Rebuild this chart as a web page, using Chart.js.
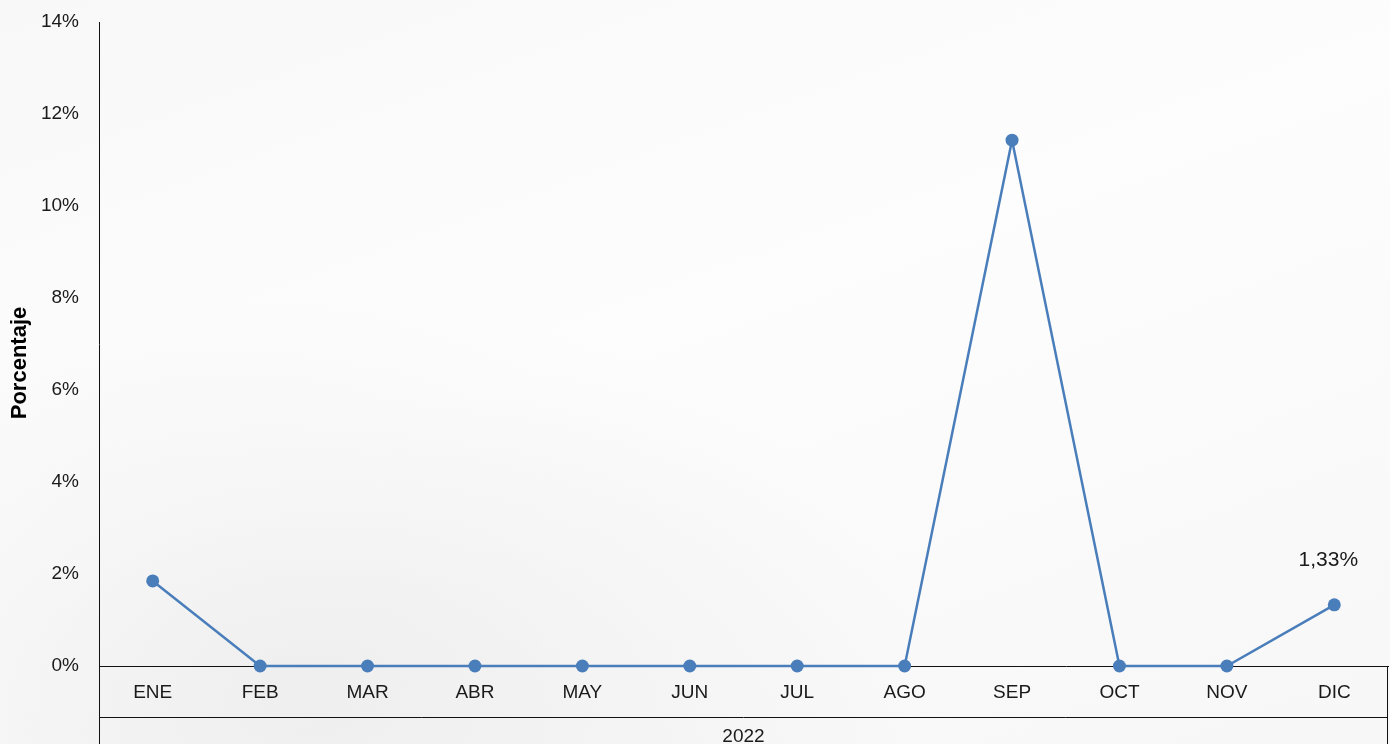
<!DOCTYPE html>
<html lang="es">
<head>
<meta charset="utf-8">
<title>Porcentaje 2022</title>
<script src="https://cdn.jsdelivr.net/npm/chart.js@4/dist/chart.umd.min.js"></script>
<style>
  html, body { margin: 0; padding: 0; }
  body {
    width: 1390px; height: 744px; overflow: hidden;
    background:
      radial-gradient(ellipse at 22% 92%, rgba(215,215,215,0.35), rgba(255,255,255,0) 40%),
      linear-gradient(160deg, #f8f8f8 0%, #fdfdfd 45%, #f7f7f7 100%);
  }
  #wrap { position: relative; width: 1390px; height: 744px; }
</style>
</head>
<body>
<div id="wrap"><canvas id="chart" width="1390" height="744"></canvas></div>
<script>
'use strict';

// Data
const months = ['ENE', 'FEB', 'MAR', 'ABR', 'MAY', 'JUN', 'JUL', 'AGO', 'SEP', 'OCT', 'NOV', 'DIC'];
const yearLabel = '2022';
const values = [1.85, 0, 0, 0, 0, 0, 0, 0, 11.43, 0, 0, 1.33];
const labelled = [11];            // indexes that carry a value label
const yTitle = 'Porcentaje';

const font = "'Liberation Sans', Arial, Helvetica, sans-serif";
const lineColor = '#4a7ebb';
const ink = '#1a1a1a';

const fmt = v => v.toFixed(2).replace('.', ',') + '%';

// Category box + year row + value labels + axis title
const boxPlugin = {
  id: 'boxPlugin',
  afterDraw(chart) {
    const { ctx, chartArea: a, height } = chart;
    const rowY = 717;
    ctx.save();
    ctx.strokeStyle = '#111';
    ctx.lineWidth = 1;
    ctx.beginPath();
    ctx.moveTo(a.left + 0.5, a.bottom); ctx.lineTo(a.left + 0.5, height);
    ctx.moveTo(a.right - 0.5, a.bottom); ctx.lineTo(a.right - 0.5, height);
    ctx.moveTo(a.left, rowY + 0.5); ctx.lineTo(a.right, rowY + 0.5);
    ctx.stroke();

    ctx.fillStyle = ink;
    ctx.font = '19px ' + font;
    ctx.textAlign = 'center';
    ctx.textBaseline = 'middle';
    ctx.fillText(yearLabel, (a.left + a.right) / 2, 737);

    const meta = chart.getDatasetMeta(0);
    ctx.font = '21px ' + font;
    labelled.forEach(i => {
      const p = meta.data[i];
      ctx.fillText(fmt(values[i]), p.x - 6, p.y - 45);
    });

    // y title, rotated
    ctx.fillStyle = '#000';
    ctx.font = 'bold 22px ' + font;
    ctx.translate(20, 363);
    ctx.rotate(-Math.PI / 2);
    ctx.fillText(yTitle, 0, 0);
    ctx.restore();
  }
};

new Chart(document.getElementById('chart'), {
  type: 'line',
  data: {
    labels: months,
    datasets: [{
      data: values,
      borderColor: lineColor,
      backgroundColor: lineColor,
      borderWidth: 2.5,
      pointRadius: 6.5,
      pointHoverRadius: 6.5,
      pointBackgroundColor: lineColor,
      pointBorderWidth: 0,
      tension: 0,
      clip: false
    }]
  },
  options: {
    responsive: false,
    animation: false,
    events: [],
    layout: { autoPadding: false, padding: { top: 22, right: 2, left: 0, bottom: 0 } },
    plugins: { legend: { display: false }, tooltip: { enabled: false } },
    scales: {
      x: {
        offset: true,
        grid: { display: false, drawTicks: false },
        border: { display: true, color: '#111', width: 1 },
        ticks: { color: ink, font: { family: font, size: 19 }, padding: 15, maxRotation: 0, autoSkip: false },
        afterFit(s) { s.height = 78; s.paddingLeft = 0; s.paddingRight = 0; }
      },
      y: {
        min: 0,
        max: 14,
        grid: { display: false, drawTicks: false },
        border: { display: true, color: '#111', width: 1 },
        ticks: { stepSize: 2, color: ink, font: { family: font, size: 19 }, padding: 20, callback: v => v + '%' },
        title: { display: false },
        afterFit(s) { s.width = 99; s.paddingTop = 0; s.paddingBottom = 0; }
      }
    }
  },
  plugins: [boxPlugin]
});
</script>
</body>
</html>
